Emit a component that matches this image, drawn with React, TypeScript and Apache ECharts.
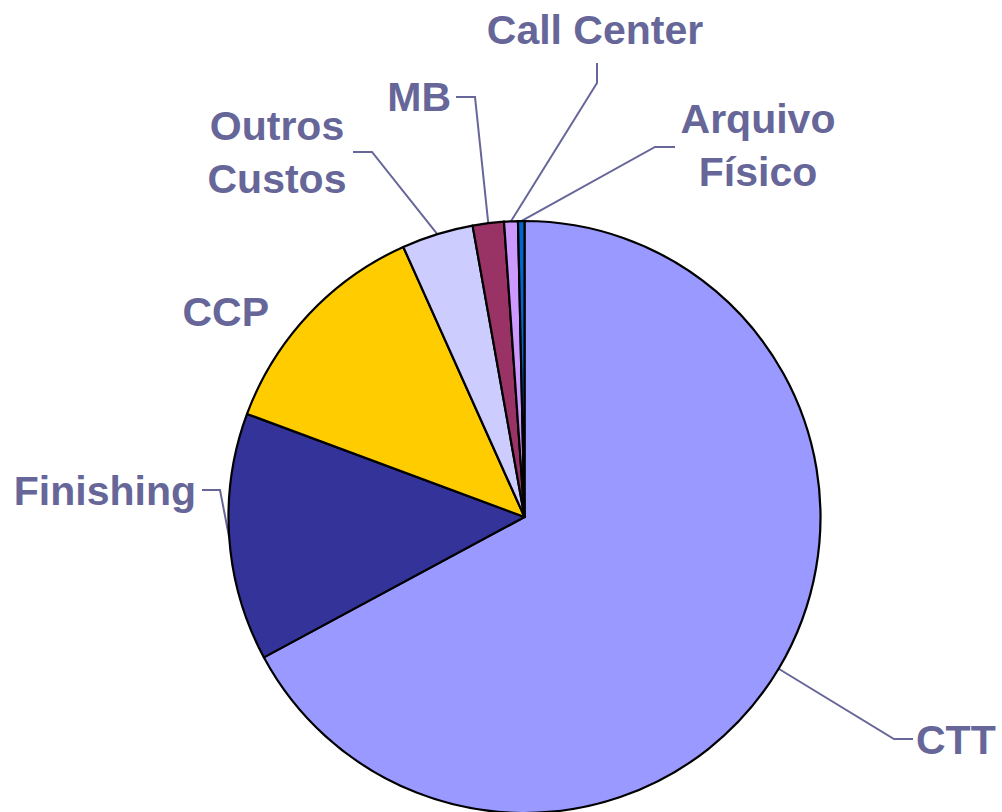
import React, { useEffect, useRef } from "react";
import * as echarts from "echarts";

// ---- data ----
const categories = ["CTT", "Finishing", "CCP", "Outros\nCustos", "MB", "Call Center", "Arquivo\nFísico"];
const shares = [67.0, 13.5, 12.6, 3.9, 1.7, 0.75, 0.35];
const colors = ["#9999FF", "#333399", "#FFCC00", "#CCCCFF", "#993366", "#CC99FF", "#0066CC"];

// ---- label layout (positions of the texts and leader-line elbows) ----
type LabelPos = { x: number; y: number; align: string; line: number[][] | null };
const labelPositions: LabelPos[] = [
  { x: 916, y: 740, align: "left", line: [[894, 739], [913, 739]] },
  { x: 196, y: 491, align: "right", line: [[220, 490], [202, 490]] },
  { x: 269, y: 312, align: "right", line: null },
  { x: 277, y: 152, align: "center", line: [[372, 152], [353, 152]] },
  { x: 451, y: 97, align: "right", line: [[475, 97], [456, 97]] },
  { x: 595, y: 30, align: "center", line: [[597, 83], [597, 63]] },
  { x: 758, y: 145, align: "center", line: [[655, 147], [675, 147]] },
];

const CX = 524.5;
const CY = 517;
const R = 296;

export default function App() {
  const ref = useRef<HTMLDivElement>(null);
  useEffect(() => {
    if (!ref.current) return;
    const chart = echarts.init(ref.current, undefined, { renderer: "svg" });
    const total = shares.reduce((a, b) => a + b, 0);
    const edgePoint = (i: number) => {
      let before = 0;
      for (let k = 0; k < i; k++) before += shares[k];
      const mid = ((before + shares[i] / 2) / total) * Math.PI * 2;
      return [CX + R * Math.sin(mid), CY - R * Math.cos(mid)];
    };
    chart.setOption({
      animation: false,
      backgroundColor: "#ffffff",
      series: [
        {
          type: "pie",
          silent: true,
          center: [CX, CY],
          radius: R,
          startAngle: 90,
          clockwise: true,
          avoidLabelOverlap: false,
          itemStyle: { borderColor: "#000000", borderWidth: 2.2 },
          label: {
            show: true,
            position: "outside",
            formatter: "{b}",
            color: "#666699",
            fontSize: 41,
            fontWeight: "bold",
            fontFamily: "'Liberation Sans', Arial, sans-serif",
            lineHeight: 53,
            align: "center",
          },
          labelLine: {
            show: true,
            length: 10,
            length2: 10,
            lineStyle: { color: "#666699", width: 2 },
          },
          labelLayout: (params: any) => {
            const p = labelPositions[params.dataIndex];
            const out: any = {
              x: p.x,
              y: p.y,
              align: p.align,
              verticalAlign: "middle",
              hideOverlap: false,
            };
            if (p.line) {
              const start =
                params.labelLinePoints && params.labelLinePoints[0]
                  ? params.labelLinePoints[0]
                  : edgePoint(params.dataIndex);
              out.labelLinePoints = [start, p.line[0], p.line[1]];
            }
            return out;
          },
          data: categories.map((name, i) => ({
            name,
            value: shares[i],
            itemStyle: { color: colors[i] },
            labelLine: { show: labelPositions[i].line !== null },
          })),
        },
      ],
    });
    return () => chart.dispose();
  }, []);
  return (
    <div
      ref={ref}
      style={{ position: "fixed", left: 0, top: 0, width: 1002, height: 812, background: "#fff" }}
    />
  );
}
